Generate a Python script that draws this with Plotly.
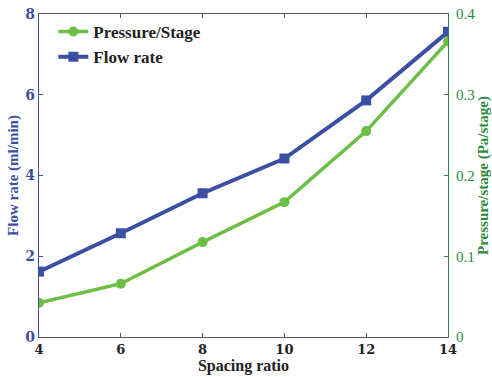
import plotly.graph_objects as go

spacing_ratio = [4, 6, 8, 10, 12, 14]
flow_rate = [1.62, 2.57, 3.56, 4.42, 5.86, 7.56]
pressure_stage = [0.0425, 0.066, 0.1175, 0.167, 0.255, 0.366]

BLUE = "#3C50A3"
GREEN = "#6CBF45"
DGREEN = "#2A8A3C"
FONT = "DejaVu Serif"
LFONT = "Liberation Serif"

fig = go.Figure()
fig.add_trace(go.Scatter(
    x=spacing_ratio, y=pressure_stage, name="Pressure/Stage", yaxis="y2",
    mode="lines+markers", line=dict(color=GREEN, width=3.5),
    marker=dict(symbol="circle", size=10, color=GREEN)))
fig.add_trace(go.Scatter(
    x=spacing_ratio, y=flow_rate, name="Flow rate", yaxis="y",
    mode="lines+markers", line=dict(color=BLUE, width=4),
    marker=dict(symbol="square", size=10, color=BLUE)))

fig.update_layout(
    width=492, height=377,
    margin=dict(l=39, r=44, t=14, b=40, autoexpand=False),
    paper_bgcolor="white", plot_bgcolor="white",
    font=dict(family=FONT, size=14),
    showlegend=True,
    legend=dict(x=0.035, y=1.0, xanchor="left", yanchor="top",
                bgcolor="rgba(0,0,0,0)",
                font=dict(family=LFONT, size=17, color="#222", weight="bold"),
                tracegroupgap=0),
    xaxis=dict(range=[4, 14], tickvals=[4, 6, 8, 10, 12, 14], automargin=False,
               showgrid=False, zeroline=False,
               showline=True, linecolor="#555", linewidth=1.2, mirror="ticks",
               ticks="inside", ticklen=4, tickcolor="#555",
               tickfont=dict(family=FONT, size=13, color="#222", weight="bold"),
               title=dict(text="Spacing ratio", standoff=4,
                          font=dict(family=LFONT, size=16, color="#222", weight="bold"))),
    yaxis=dict(range=[0, 8], tickvals=[0, 2, 4, 6, 8], automargin=False,
               showgrid=False, zeroline=False,
               showline=True, linecolor=BLUE, linewidth=1.2,
               ticks="inside", ticklen=4, tickcolor=BLUE,
               tickfont=dict(family=FONT, size=14, color=BLUE, weight="bold"),
               title=dict(text="Flow rate (ml/min)", standoff=3,
                          font=dict(family=LFONT, size=15, color=BLUE, weight="bold"))),
    yaxis2=dict(range=[0, 0.4], tickvals=[0, 0.1, 0.2, 0.3, 0.4], automargin=False,
                ticktext=["0", "0.1", "0.2", "0.3", "0.4"],
                overlaying="y", side="right", ticklabelstandoff=4,
                showgrid=False, zeroline=False,
                showline=True, linecolor=DGREEN, linewidth=1.2,
                ticks="inside", ticklen=4, tickcolor=DGREEN,
                tickfont=dict(family=LFONT, size=15, color=DGREEN),
                title=dict(text="Pressure/stage (Pa/stage)", standoff=2,
                           font=dict(family=LFONT, size=15, color=DGREEN, weight="bold"))),
)

fig.write_html("out.html")
